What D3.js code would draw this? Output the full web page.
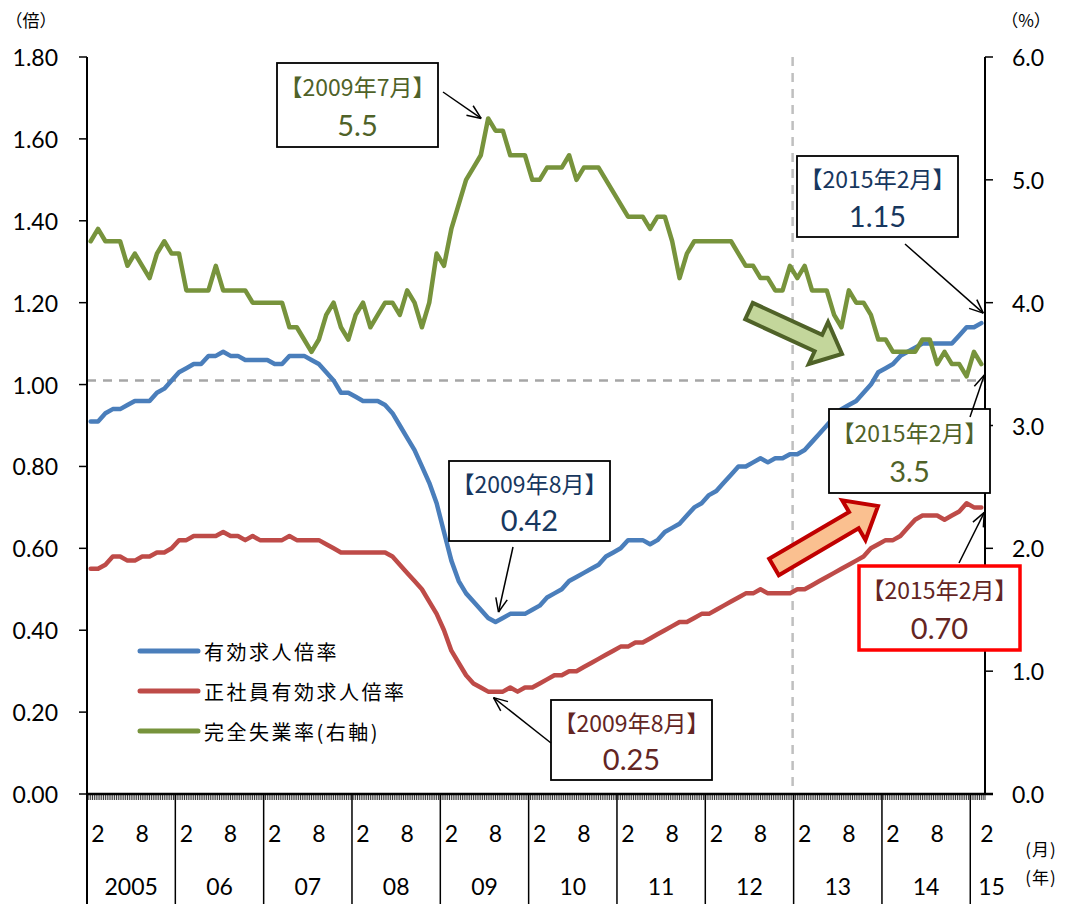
<!DOCTYPE html>
<html>
<head>
<meta charset="utf-8">
<script src="https://cdn.jsdelivr.net/npm/d3@7"></script>
<style>
  body { margin: 0; background: #fff; }
  svg text { font-family: Lato, "Noto Sans CJK JP", sans-serif; fill: #000; }
  svg text.jp { font-family: "Noto Sans CJK JP", sans-serif; }
</style>
</head>
<body>
<div id="chart"></div>
<script>
// monthly values, 2005/01 .. 2015/02
const jobRatio = [
  0.91,0.91,0.93,0.94,0.94,0.95,0.96,0.96,0.96,0.98,0.99,1.01,
  1.03,1.04,1.05,1.05,1.07,1.07,1.08,1.07,1.07,1.06,1.06,1.06,
  1.06,1.05,1.05,1.07,1.07,1.07,1.06,1.05,1.03,1.01,0.98,0.98,
  0.97,0.96,0.96,0.96,0.95,0.93,0.90,0.87,0.84,0.80,0.76,0.71,
  0.64,0.57,0.52,0.49,0.47,0.45,0.43,0.42,0.43,0.44,0.44,0.44,
  0.45,0.46,0.48,0.49,0.50,0.52,0.53,0.54,0.55,0.56,0.58,0.59,
  0.60,0.62,0.62,0.62,0.61,0.62,0.64,0.65,0.66,0.68,0.70,0.71,
  0.73,0.74,0.76,0.78,0.80,0.80,0.81,0.82,0.81,0.82,0.82,0.83,
  0.83,0.84,0.86,0.88,0.90,0.92,0.94,0.95,0.96,0.98,1.00,1.03,
  1.04,1.05,1.07,1.08,1.09,1.10,1.10,1.10,1.10,1.10,1.12,1.14,
  1.14,1.15
];
const regularRatio = [
  0.55,0.55,0.56,0.58,0.58,0.57,0.57,0.58,0.58,0.59,0.59,0.60,
  0.62,0.62,0.63,0.63,0.63,0.63,0.64,0.63,0.63,0.62,0.63,0.62,
  0.62,0.62,0.62,0.63,0.62,0.62,0.62,0.62,0.61,0.60,0.59,0.59,
  0.59,0.59,0.59,0.59,0.59,0.58,0.56,0.54,0.52,0.50,0.47,0.44,
  0.40,0.35,0.32,0.29,0.27,0.26,0.25,0.25,0.25,0.26,0.25,0.26,
  0.26,0.27,0.28,0.29,0.29,0.30,0.30,0.31,0.32,0.33,0.34,0.35,
  0.36,0.36,0.37,0.37,0.38,0.39,0.40,0.41,0.42,0.42,0.43,0.44,
  0.44,0.45,0.46,0.47,0.48,0.49,0.49,0.50,0.49,0.49,0.49,0.49,
  0.50,0.50,0.51,0.52,0.53,0.54,0.55,0.56,0.57,0.58,0.60,0.61,
  0.62,0.62,0.63,0.65,0.67,0.68,0.68,0.68,0.67,0.68,0.69,0.71,
  0.70,0.70
];
const unemployment = [
  4.5,4.6,4.5,4.5,4.5,4.3,4.4,4.3,4.2,4.4,4.5,4.4,
  4.4,4.1,4.1,4.1,4.1,4.3,4.1,4.1,4.1,4.1,4.0,4.0,
  4.0,4.0,4.0,3.8,3.8,3.7,3.6,3.7,3.9,4.0,3.8,3.7,
  3.9,4.0,3.8,3.9,4.0,4.0,3.9,4.1,4.0,3.8,4.0,4.4,
  4.3,4.6,4.8,5.0,5.1,5.2,5.5,5.4,5.4,5.2,5.2,5.2,
  5.0,5.0,5.1,5.1,5.1,5.2,5.0,5.1,5.1,5.1,5.0,4.9,
  4.8,4.7,4.7,4.7,4.6,4.7,4.7,4.5,4.2,4.4,4.5,4.5,
  4.5,4.5,4.5,4.5,4.4,4.3,4.3,4.2,4.2,4.1,4.1,4.3,
  4.2,4.3,4.1,4.1,4.1,3.9,3.8,4.1,4.0,4.0,3.9,3.7,
  3.7,3.6,3.6,3.6,3.6,3.7,3.7,3.5,3.6,3.5,3.5,3.4,
  3.6,3.5
];
const yearLabels = ["2005","06","07","08","09","10","11","12","13","14","15"];
const monthLabels = [[1, "2"], [7, "8"]];   // month index within year, label
const leftTicks = [0, 0.2, 0.4, 0.6, 0.8, 1.0, 1.2, 1.4, 1.6, 1.8];
const rightTicks = [0, 1, 2, 3, 4, 5, 6];
const seriesNames = ["有効求人倍率", "正社員有効求人倍率", "完全失業率(右軸)"];

const width = 1065, height = 904;
const plotL = 87, plotR = 985, plotT = 57, plotB = 794;
const nMonths = jobRatio.length;

const svg = d3.select("#chart").append("svg")
    .attr("width", width)
    .attr("height", height);

const x = d3.scaleLinear().domain([0, nMonths]).range([plotL, plotR]);
const yL = d3.scaleLinear().domain([0, 1.8]).range([plotB, plotT]);
const yR = d3.scaleLinear().domain([0, 6]).range([plotB, plotT]);
const px = i => x(i + 0.5);

// reference lines
svg.append("line")
    .attr("x1", plotL).attr("x2", plotR)
    .attr("y1", yL(1.01)).attr("y2", yL(1.01))
    .attr("stroke", "#a6a6a6").attr("stroke-width", 2.5)
    .attr("stroke-dasharray", "9,7");
svg.append("line")
    .attr("x1", x(96) - 1).attr("x2", x(96) - 1)
    .attr("y1", plotT).attr("y2", plotB)
    .attr("stroke", "#bfbfbf").attr("stroke-width", 2.5)
    .attr("stroke-dasharray", "9,7");

// left axis
svg.append("line").attr("x1", plotL).attr("x2", plotL).attr("y1", plotT).attr("y2", height)
    .attr("stroke", "#000").attr("stroke-width", 2);
svg.selectAll(".ltick").data(leftTicks).join("line")
    .attr("x1", plotL - 8).attr("x2", plotL)
    .attr("y1", d => yL(d)).attr("y2", d => yL(d))
    .attr("stroke", "#000").attr("stroke-width", 1.5);
svg.selectAll(".llab").data(leftTicks).join("text")
    .attr("x", 58).attr("y", d => yL(d))
    .attr("text-anchor", "end").attr("dominant-baseline", "central")
    .style("font-size", "23px")
    .text(d => d.toFixed(2));

// right axis
svg.append("line").attr("x1", plotR).attr("x2", plotR).attr("y1", plotT).attr("y2", plotB)
    .attr("stroke", "#000").attr("stroke-width", 2);
svg.selectAll(".rtick").data(rightTicks).join("line")
    .attr("x1", plotR).attr("x2", plotR + 8)
    .attr("y1", d => yR(d)).attr("y2", d => yR(d))
    .attr("stroke", "#000").attr("stroke-width", 1.5);
svg.selectAll(".rlab").data(rightTicks).join("text")
    .attr("x", 1012).attr("y", d => yR(d))
    .attr("dominant-baseline", "central")
    .style("font-size", "23px")
    .text(d => d.toFixed(1));

// units
svg.append("text").attr("class", "jp").attr("x", 31).attr("y", 19)
    .attr("text-anchor", "middle").attr("dominant-baseline", "central")
    .style("font-size", "17px").text("（倍）");
svg.append("text").attr("class", "jp").attr("x", 1026).attr("y", 19)
    .attr("text-anchor", "middle").attr("dominant-baseline", "central")
    .style("font-size", "17px").text("（%）");

// x axis: fine ticks (4 per month), year separators
svg.selectAll(".mtick").data(d3.range(0, nMonths + 0.01, 0.25)).join("line")
    .attr("x1", d => x(d)).attr("x2", d => x(d))
    .attr("y1", plotB).attr("y2", plotB + 6)
    .attr("stroke", "#000").attr("stroke-width", 0.8);
svg.selectAll(".ysep").data(yearLabels).join("line")
    .attr("x1", (d, i) => x(i * 12)).attr("x2", (d, i) => x(i * 12))
    .attr("y1", plotB).attr("y2", height)
    .attr("stroke", "#000").attr("stroke-width", 1.5);
svg.append("line").attr("x1", plotL).attr("x2", plotR + 8)
    .attr("y1", plotB).attr("y2", plotB)
    .attr("stroke", "#000").attr("stroke-width", 2.5);

const monthTicks = [];
yearLabels.forEach((y, k) => monthLabels.forEach(([m, lab]) => {
  if (k * 12 + m < nMonths) monthTicks.push({ i: k * 12 + m, lab, last: k === yearLabels.length - 1 });
}));
svg.selectAll(".mlab").data(monthTicks).join("text")
    .attr("x", d => d.last ? x(d.i - 1) + 10 : px(d.i))
    .attr("y", 833)
    .attr("text-anchor", d => d.last ? "start" : "middle")
    .attr("dominant-baseline", "central")
    .style("font-size", "23px")
    .text(d => d.lab);
svg.selectAll(".ylab").data(yearLabels).join("text")
    .attr("x", (d, i) => i === yearLabels.length - 1 ? x(i * 12) + 8 : x(i * 12 + 6))
    .attr("y", 886)
    .attr("text-anchor", (d, i) => i === yearLabels.length - 1 ? "start" : "middle")
    .attr("dominant-baseline", "central")
    .style("font-size", "23px")
    .text(d => d);
svg.append("text").attr("class", "jp").attr("x", 1041).attr("y", 848)
    .attr("text-anchor", "middle").attr("dominant-baseline", "central")
    .style("font-size", "17px").style("letter-spacing", "1px").text("(月)");
svg.append("text").attr("class", "jp").attr("x", 1041).attr("y", 876)
    .attr("text-anchor", "middle").attr("dominant-baseline", "central")
    .style("font-size", "17px").style("letter-spacing", "1px").text("(年)");

// series
const colors = ["#4a7ebb", "#be4b48", "#77933c"];
const lineL = d3.line().x((d, i) => px(i)).y(d => yL(d));
const lineR = d3.line().x((d, i) => px(i)).y(d => yR(d));
[[jobRatio, lineL], [regularRatio, lineL], [unemployment, lineR]].forEach(([data, gen], k) => {
  svg.append("path")
      .attr("d", gen(data))
      .attr("fill", "none")
      .attr("stroke", colors[k])
      .attr("stroke-width", 4.5)
      .attr("stroke-linejoin", "round")
      .attr("stroke-linecap", "round");
});

// legend
seriesNames.forEach((name, k) => {
  const ly = 651 + k * 40;
  svg.append("line").attr("x1", 140).attr("x2", 198).attr("y1", ly).attr("y2", ly)
      .attr("stroke", colors[k]).attr("stroke-width", 5).attr("stroke-linecap", "round");
  svg.append("text").attr("class", "jp").attr("x", 204).attr("y", ly)
      .attr("dominant-baseline", "central")
      .style("font-size", "20px").style("letter-spacing", "2.5px")
      .text(name);
});

// block arrows
function blockArrow(x1, y1, x2, y2, shaft, headW, headL, fill, stroke) {
  const len = Math.hypot(x2 - x1, y2 - y1);
  const ang = Math.atan2(y2 - y1, x2 - x1) * 180 / Math.PI;
  const s = shaft / 2, h = headW / 2, b = len - headL;
  const pts = [[0, -s], [b, -s], [b, -h], [len, 0], [b, h], [b, s], [0, s]];
  svg.append("polygon")
      .attr("points", pts.map(p => p.join(",")).join(" "))
      .attr("transform", `translate(${x1},${y1}) rotate(${ang})`)
      .attr("fill", fill).attr("stroke", stroke).attr("stroke-width", 4)
      .attr("stroke-linejoin", "miter");
}
blockArrow(749, 311, 842, 354, 18, 46, 26, "#c3d69b", "#4f6228");
blockArrow(774, 567, 878, 506, 19, 46, 28, "#fac090", "#c00000");

// callouts
function arrow(x1, y1, x2, y2) {
  svg.append("line").attr("x1", x1).attr("y1", y1).attr("x2", x2).attr("y2", y2)
      .attr("stroke", "#000").attr("stroke-width", 1.5);
  const a = Math.atan2(y1 - y2, x1 - x2), L = 15, w = 0.4;
  [a - w, a + w].forEach(t => svg.append("line")
      .attr("x1", x2).attr("y1", y2)
      .attr("x2", x2 + L * Math.cos(t)).attr("y2", y2 + L * Math.sin(t))
      .attr("stroke", "#000").attr("stroke-width", 1.5));
}
function callout(bx, by, bw, bh, label, value, color, border, bwid, from, to) {
  svg.append("rect").attr("x", bx).attr("y", by).attr("width", bw).attr("height", bh)
      .attr("fill", "#fff").attr("stroke", border).attr("stroke-width", bwid);
  svg.append("text").attr("class", "jp").attr("x", bx + bw / 2).attr("y", by + bh * 0.27)
      .attr("text-anchor", "middle").attr("dominant-baseline", "central")
      .style("font-size", "23px").style("fill", color).text(label);
  svg.append("text").attr("x", bx + bw / 2).attr("y", by + bh * 0.73)
      .attr("text-anchor", "middle").attr("dominant-baseline", "central")
      .style("font-size", "29px").style("fill", color).text(value);
  arrow(from[0], from[1], to[0], to[1]);
}
const iJul09 = 54, iAug09 = 55, iFeb15 = nMonths - 1;
callout(277, 63, 161, 84, "【2009年7月】", unemployment[iJul09].toFixed(1), "#4f6228", "#000", 1.8,
  [443, 92], [px(iJul09) - 7, yR(unemployment[iJul09])]);
callout(797, 156, 161, 81, "【2015年2月】", jobRatio[iFeb15].toFixed(2), "#17375e", "#000", 1.8,
  [905, 244], [px(iFeb15) + 2, yL(jobRatio[iFeb15]) - 10]);
callout(449, 461, 161, 80, "【2009年8月】", jobRatio[iAug09].toFixed(2), "#17375e", "#000", 1.8,
  [513, 547], [px(iAug09) + 3, yL(jobRatio[iAug09]) - 10]);
callout(551, 700, 161, 80, "【2009年8月】", regularRatio[iAug09].toFixed(2), "#632523", "#000", 1.8,
  [551, 743], [px(iAug09) - 2, yL(regularRatio[iAug09]) + 6]);
callout(829, 409, 161, 84, "【2015年2月】", unemployment[iFeb15].toFixed(1), "#4f6228", "#000", 1.8,
  [970, 417], [px(iFeb15) + 3, yR(unemployment[iFeb15]) + 11]);
callout(859, 566, 161, 84, "【2015年2月】", regularRatio[iFeb15].toFixed(2), "#632523", "#ff0000", 3.5,
  [959, 563], [px(iFeb15) + 3, yL(regularRatio[iFeb15]) + 5]);
</script>
</body>
</html>
